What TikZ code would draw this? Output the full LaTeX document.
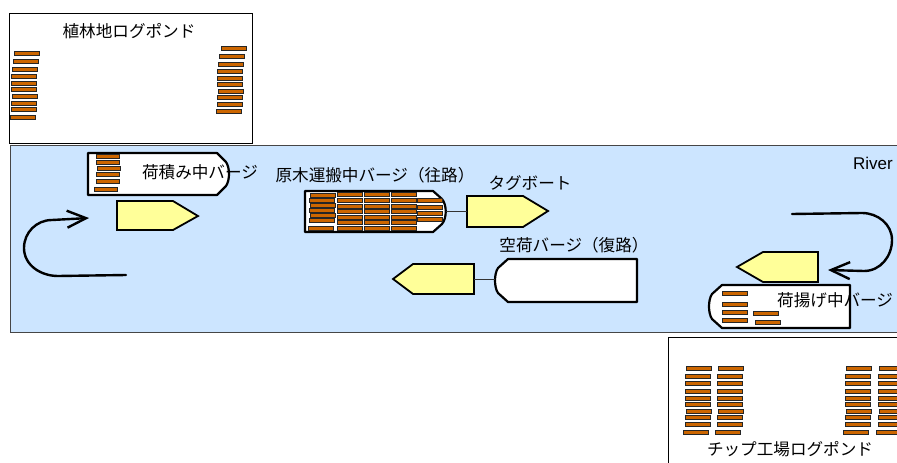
\documentclass[tikz,border=0pt]{standalone}
\usepackage{fontspec}
\setmainfont{Noto Sans CJK JP}
\newfontfamily\latinsans{Liberation Sans}
\usetikzlibrary{arrows.meta}
\definecolor{riverblue}{RGB}{204,229,255}
\definecolor{logbrown}{RGB}{204,102,0}
\definecolor{tugyellow}{RGB}{255,255,153}
\definecolor{riveredge}{RGB}{70,70,70}
\tikzset{
  pond/.style={draw=black, line width=1pt, fill=white},
  river/.style={draw=riveredge, line width=1pt, fill=riverblue},
  barge/.style={draw=black, line width=2.2pt, fill=white, line join=round},
  tug/.style={draw=black, line width=1.8pt, fill=tugyellow, line join=miter},
  logbar/.style={draw=black!85, line width=0.8pt, fill=logbrown},
  towline/.style={draw=black!80, line width=1pt},
  loop/.style={draw=black, line width=2.4pt, line cap=round,
    -{Straight Barb[length=19pt,width=17pt,line width=2.4pt]}},
  label/.style={font=\fontsize{16.6}{18}\selectfont, inner sep=0pt},
}
% one log: lower-left x, centre y, width
\newcommand{\logat}[3]{\draw[logbar] (#1,#2-2.1) rectangle ++(#3,4.2);}
\begin{document}
\begin{tikzpicture}[x=1pt, y=-1pt]
\clip (0,0) rectangle (897,463);
\fill[white] (0,0) rectangle (897,463);

% plantation log pond (upper left)
\draw[pond] (9,13) rectangle (252,143);
\node[label] (pondA) at (129,31) {植林地ログポンド};
\foreach \x/\y in {14/53,13/61,12/69,11/76,11/83,11/89,12/96,11/103,11/109,10/117}
  {\logat{\x}{\y}{25}}
\foreach \x/\y in {221/48,219/56,218/64,217/71,217/78,217/84,218/91,217/97,217/104,216/111}
  {\logat{\x}{\y}{25}}

% chip mill log pond (lower right)
\draw[pond] (668,337) rectangle (910,470);
\node[label] (pondB) at (790,449) {チップ工場ログポンド};
\foreach \y [count=\i] in {368,376,383,391,398,404,411,417,424,432} {
  \pgfmathsetmacro{\dx}{ifthenelse(\i==1||\i==7,1,0)-ifthenelse(\i==10,2,0)}
  \logat{685+\dx}{\y}{25}
  \logat{717+\dx}{\y}{25}
  \logat{845+\dx}{\y}{25}
  \logat{878+\dx}{\y}{25}
}

% river
\draw[river] (10,145) rectangle (910,332);
\node[font=\latinsans\fontsize{17}{19}\selectfont, anchor=east, inner sep=0pt] (river) at (893,163) {River};

% barge being loaded
\draw[barge] (88,153) -- (217,153) -- (226,162) .. controls (230,168) and (230,180) .. (226,186) -- (217,195) -- (88,195) -- cycle;
\foreach \x/\y in {96/156,96/162,97/168,96/174,96/181,94/189} {\logat{\x}{\y}{23}}
\node[label] (loading) at (200,172) {荷積み中バージ};
\draw[tug] (117,201) -- (173,201) -- (198,216) -- (173,230) -- (117,230) -- cycle;

% loop at the loading side
\coordinate (loopA-start) at (126,275);
\coordinate (loopA-end) at (89,218);
\draw[loop] (loopA-start) -- (58,276) to[out=180,in=270] (24,248) to[out=90,in=180] (52,220) -- (loopA-end);

% loaded barge on the outbound leg, pushed by its tug
\draw[barge] (305,191) -- (433,191) -- (442,199) .. controls (447,205) and (447,218) .. (442,224) -- (433,232) -- (305,232) -- cycle;
\foreach \y/\dx in {195/1,200/0,205/1,210/0,215/1,220/0,228/-1} {\logat{309+\dx}{\y}{25}}
\foreach \c in {337,364,391} {
  \foreach \y in {194,200,206,211,217,222,228} {\logat{\c}{\y}{25}}
}
\foreach \y in {200,207,213,219} {\logat{417}{\y}{25}}
\coordinate (loaded-bow) at (446,211);
\node[label] (loaded) at (375,175) {原木運搬中バージ（往路）};
\draw[tug] (467,196) -- (523,196) -- (548,211) -- (523,227) -- (467,227) -- cycle;
\coordinate (tugA-stern) at (467,211);
\draw[towline] (loaded-bow) -- (tugA-stern);
\node[label] (tuglabel) at (530,183) {タグボート};

% empty barge on the return leg
\draw[barge] (637,259) -- (508,259) -- (498,268) .. controls (494,274) and (494,287) .. (498,293) -- (508,302) -- (637,302) -- cycle;
\coordinate (empty-bow) at (495,279);
\node[label] (empty) at (574,245) {空荷バージ（復路）};
\draw[tug] (474,264) -- (413,264) -- (393,279) -- (413,294) -- (474,294) -- cycle;
\coordinate (tugB-stern) at (474,279);
\draw[towline] (tugB-stern) -- (empty-bow);

% barge being unloaded
\draw[tug] (818,252) -- (763,252) -- (737,267) -- (763,282) -- (818,282) -- cycle;
\draw[barge] (850,285) -- (722,285) -- (712,294) .. controls (708,300) and (708,313) .. (712,319) -- (722,328) -- (850,328) -- cycle;
\foreach \y in {293,304,312,320} {\logat{722}{\y}{25}}
\logat{753}{313}{25}
\logat{755}{322}{25}
\node[label, anchor=west] (unloading) at (777,300) {荷揚げ中バージ};

% loop at the unloading side
\coordinate (loopB-start) at (792,214);
\coordinate (loopB-end) at (828,270);
\draw[loop] (loopB-start) -- (862,213) to[out=0,in=90] (892,240) to[out=270,in=0] (864,271) -- (loopB-end);
\end{tikzpicture}
\end{document}
